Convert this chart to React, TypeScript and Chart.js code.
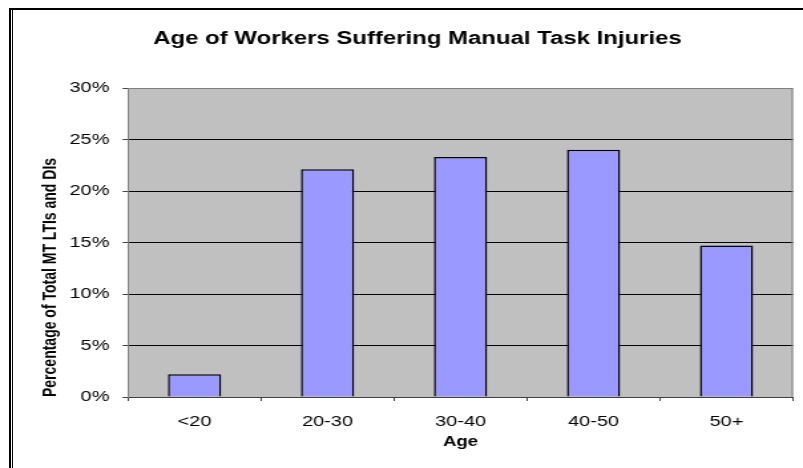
import React, { useEffect, useRef } from "react";
import { Chart, registerables } from "chart.js";

Chart.register(...registerables);

// ---- data ----
const categories = ["<20", "20-30", "30-40", "40-50", "50+"];
const percentages = [2.2, 22.1, 23.3, 24.0, 14.7];
const yTickValues = [0, 5, 10, 15, 20, 25, 30];
const chartTitle = "Age of Workers Suffering Manual Task Injuries";
const xAxisTitle = "Age";
const yAxisTitle = "Percentage of Total MT LTIs and DIs";

// ---- geometry (canvas is drawn narrower and stretched horizontally, like the reference) ----
const SCREEN_W = 803;
const SCREEN_H = 468;
const INNER_W = 604;
const SX = SCREEN_W / INNER_W;

const PLOT_LEFT = 128 / SX;
const PLOT_RIGHT = 793 / SX;
const PAD_RIGHT = INNER_W - PLOT_RIGHT;
const PAD_LEFT = 2 * (417.5 / SX) - PLOT_RIGHT;
const Y_AXIS_W = PLOT_LEFT - PAD_LEFT;
const X_AXIS_H = 60;
const PAD_BOTTOM = SCREEN_H - 397 - X_AXIS_H;

const plotArea = {
  id: "plotArea",
  beforeDraw(chart: any) {
    const { ctx, chartArea } = chart;
    ctx.save();
    ctx.fillStyle = "#C0C0C0";
    ctx.fillRect(chartArea.left, chartArea.top, chartArea.width, chartArea.height);
    ctx.restore();
  },
  beforeDatasetsDraw(chart: any) {
    const { ctx, chartArea } = chart;
    ctx.save();
    ctx.strokeStyle = "#808080";
    ctx.lineWidth = 1;
    ctx.beginPath();
    ctx.moveTo(chartArea.right - 0.5, chartArea.top);
    ctx.lineTo(chartArea.right - 0.5, chartArea.bottom);
    ctx.stroke();
    ctx.restore();
  },
};

export default function App() {
  const ref = useRef<HTMLCanvasElement | null>(null);

  useEffect(() => {
    if (!ref.current) return;
    const family = "'Liberation Sans', Arial, sans-serif";
    const chart = new Chart(ref.current, {
      type: "bar",
      data: {
        labels: categories,
        datasets: [
          {
            data: percentages,
            backgroundColor: "#9999FF",
            borderColor: "#000000",
            borderWidth: 1.5,
            barPercentage: 0.4,
            categoryPercentage: 1,
          },
        ],
      },
      plugins: [plotArea],
      options: {
        responsive: false,
        devicePixelRatio: 1,
        animation: false,
        layout: { padding: { left: PAD_LEFT, right: PAD_RIGHT, top: 0, bottom: PAD_BOTTOM } },
        plugins: {
          legend: { display: false },
          tooltip: { enabled: false },
          title: {
            display: true,
            text: chartTitle,
            color: "#000",
            font: { family, size: 18, weight: "bold" },
            padding: { top: 28, bottom: 38.4 },
          },
        },
        scales: {
          x: {
            offset: true,
            grid: {
              offset: true,
              drawOnChartArea: false,
              drawTicks: true,
              tickLength: 4,
              tickColor: "#404040",
            },
            border: { display: true, color: "#404040" },
            ticks: { color: "#000", font: { family, size: 15 }, padding: 12, maxRotation: 0 },
            title: {
              display: true,
              text: xAxisTitle,
              color: "#000",
              font: { family, size: 14, weight: "bold" },
              padding: { top: 4, bottom: 6 },
            },
            afterFit(scale: any) {
              scale.height = X_AXIS_H;
            },
          },
          y: {
            min: 0,
            max: 30,
            afterBuildTicks(scale: any) {
              scale.ticks = yTickValues.map((v) => ({ value: v }));
            },
            grid: {
              color: (c: any) => (c.tick && c.tick.value === 30 ? "#808080" : "#000000"),
              lineWidth: 1,
              drawTicks: true,
              tickLength: 4,
              tickColor: "#404040",
            },
            border: { display: true, color: "#808080" },
            ticks: {
              color: "#000",
              font: { family, size: 15 },
              padding: 10,
              callback: (v: any) => v + "%",
            },
            title: {
              display: true,
              text: yAxisTitle,
              align: "start",
              color: "#000",
              font: { family, size: 14, weight: "bold" },
              padding: { top: -1.5, bottom: 0 },
            },
            afterFit(scale: any) {
              scale.width = Y_AXIS_W;
            },
          },
        },
      },
    } as any);
    return () => chart.destroy();
  }, []);

  return (
    <div
      style={{
        position: "fixed",
        left: 0,
        top: 0,
        width: SCREEN_W,
        height: SCREEN_H,
        background: "#ffffff",
        overflow: "hidden",
      }}
    >
      <canvas
        ref={ref}
        width={INNER_W}
        height={SCREEN_H}
        style={{ position: "absolute", left: 0, top: 0, width: SCREEN_W + "px", height: SCREEN_H + "px" }}
      />
      <div style={{ position: "absolute", left: 9, top: 8, width: SCREEN_W - 9, height: 2, background: "#000" }} />
      <div style={{ position: "absolute", left: 9, top: 8, width: 2, height: SCREEN_H - 8, background: "#000" }} />
      <div style={{ position: "absolute", left: 12, top: 10, width: 1, height: SCREEN_H - 10, background: "#000" }} />
    </div>
  );
}
